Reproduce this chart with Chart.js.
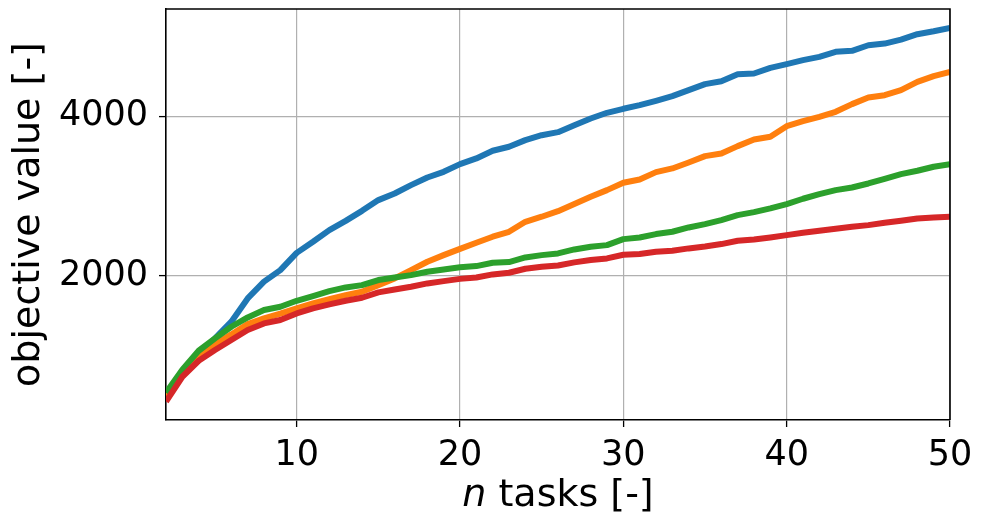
<!DOCTYPE html>
<html>
<head>
<meta charset="utf-8">
<script src="https://cdn.jsdelivr.net/npm/chart.js@4.4.1/dist/chart.umd.min.js"></script>
<style>
  body { margin: 0; background: #fff; }
  #wrap { width: 981px; height: 517px; }
</style>
</head>
<body>
<div id="wrap"><canvas id="chart" width="981" height="517"></canvas></div>
<script>
// n tasks on the x axis
const nTasks = [2, 3, 4, 5, 6, 7, 8, 9, 10, 11, 12, 13, 14, 15, 16, 17, 18, 19, 20,
  21, 22, 23, 24, 25, 26, 27, 28, 29, 30, 31, 32, 33, 34, 35, 36, 37, 38, 39, 40,
  41, 42, 43, 44, 45, 46, 47, 48, 49, 50];

// objective values per series
const blueVals = [500, 800, 1030, 1220, 1430, 1720, 1930, 2075, 2290, 2429, 2575, 2691, 2816,
  2950, 3033, 3137, 3233, 3304, 3400, 3471, 3567, 3617, 3700, 3762, 3800, 3887, 3971, 4042,
  4092, 4137, 4192, 4250, 4325, 4400, 4437, 4525, 4533, 4604, 4650, 4700, 4742, 4804, 4817,
  4887, 4908, 4958, 5025, 5062, 5104];
const orangeVals = [480, 780, 1000, 1150, 1270, 1400, 1470, 1530, 1596, 1658, 1712, 1762, 1804,
  1887, 1971, 2075, 2179, 2262, 2340, 2417, 2492, 2554, 2679, 2742, 2812, 2900, 2992, 3075,
  3167, 3208, 3300, 3346, 3421, 3500, 3533, 3625, 3708, 3742, 3875, 3937, 3992, 4054, 4150,
  4233, 4262, 4325, 4429, 4500, 4554];
const greenVals = [540, 830, 1066, 1221, 1366, 1483, 1575, 1616, 1691, 1750, 1812, 1858, 1887,
  1950, 1983, 2012, 2054, 2083, 2110, 2125, 2167, 2175, 2233, 2262, 2283, 2333, 2367, 2387,
  2462, 2483, 2525, 2554, 2608, 2650, 2700, 2762, 2800, 2846, 2900, 2967, 3025, 3075, 3108,
  3158, 3217, 3275, 3317, 3367, 3400];
const redVals = [430, 741, 941, 1075, 1200, 1325, 1408, 1450, 1533, 1596, 1646, 1691, 1729,
  1796, 1833, 1867, 1908, 1937, 1965, 1983, 2021, 2042, 2092, 2117, 2133, 2171, 2200, 2221,
  2267, 2275, 2304, 2317, 2346, 2370, 2400, 2442, 2458, 2483, 2512, 2542, 2567, 2592, 2617,
  2637, 2667, 2692, 2721, 2733, 2742];

const xTicks = [10, 20, 30, 40, 50];
const yTicks = [2000, 4000];

const FONT = "'DejaVu Sans', sans-serif";
const TICK_SIZE = 35;
const LABEL_SIZE = 38;

function toPoints(vals) {
  return vals.map((v, i) => ({ x: nTasks[i], y: v }));
}

function lineSet(vals, color, order) {
  return {
    data: toPoints(vals),
    borderColor: color,
    backgroundColor: color,
    borderWidth: 6,
    pointRadius: 0,
    tension: 0,
    borderJoinStyle: 'round',
    borderCapStyle: 'butt',
    clip: 0,
    order: order
  };
}

// top and right spines, plus the x title with italic n
const framePlugin = {
  id: 'frame',
  afterDraw(chart) {
    const { ctx, chartArea } = chart;
    ctx.save();
    ctx.strokeStyle = '#000';
    ctx.lineWidth = 1.6;
    ctx.beginPath();
    ctx.moveTo(chartArea.left, chartArea.top);
    ctx.lineTo(chartArea.right, chartArea.top);
    ctx.lineTo(chartArea.right, chartArea.bottom);
    ctx.stroke();

    const cx = (chartArea.left + chartArea.right) / 2;
    const y = 506;
    const italic = 'italic ' + LABEL_SIZE + 'px ' + FONT;
    const normal = LABEL_SIZE + 'px ' + FONT;
    ctx.font = italic;
    const wN = ctx.measureText('n').width;
    ctx.font = normal;
    const rest = ' tasks [-]';
    const wR = ctx.measureText(rest).width;
    let x0 = cx - (wN + wR) / 2;
    ctx.fillStyle = '#000';
    ctx.textBaseline = 'alphabetic';
    ctx.textAlign = 'left';
    ctx.font = italic;
    ctx.fillText('n', x0, y);
    ctx.font = normal;
    ctx.fillText(rest, x0 + wN, y);
    ctx.restore();
  }
};

const ctx = document.getElementById('chart').getContext('2d');
new Chart(ctx, {
  type: 'line',
  data: {
    datasets: [
      lineSet(blueVals, '#1f77b4', 4),
      lineSet(orangeVals, '#ff7f0e', 3),
      lineSet(greenVals, '#2ca02c', 2),
      lineSet(redVals, '#d62728', 1)
    ]
  },
  options: {
    responsive: false,
    animation: false,
    layout: { padding: { top: 9, right: 31, left: 0, bottom: 0 } },
    plugins: {
      legend: { display: false },
      tooltip: { enabled: false }
    },
    scales: {
      x: {
        type: 'linear',
        min: 2,
        max: 50,
        afterBuildTicks: (scale) => { scale.ticks = xTicks.map(v => ({ value: v })); },
        afterFit: (scale) => {
          scale.height = 97;
          scale.paddingLeft = 0;
          scale.paddingRight = 0;
        },
        grid: { color: '#b0b0b0', lineWidth: 1.2, tickColor: '#000', tickLength: 7, tickWidth: 1.3 },
        border: { color: '#000', width: 1.6 },
        ticks: { color: '#000', font: { family: FONT, size: TICK_SIZE }, padding: 8, maxRotation: 0 },
        title: { display: false }
      },
      y: {
        type: 'linear',
        min: 200,
        max: 5340,
        afterBuildTicks: (scale) => { scale.ticks = yTicks.map(v => ({ value: v })); },
        afterFit: (scale) => {
          scale.width = 166;
          scale.paddingTop = 0;
          scale.paddingBottom = 0;
        },
        grid: { color: '#b0b0b0', lineWidth: 1.2, tickColor: '#000', tickLength: 7, tickWidth: 1.3 },
        border: { color: '#000', width: 1.6 },
        ticks: {
          color: '#000',
          font: { family: FONT, size: TICK_SIZE },
          padding: 11,
          callback: (v) => String(v)
        },
        title: {
          display: true,
          text: 'objective value [-]',
          color: '#000',
          font: { family: FONT, size: LABEL_SIZE },
          padding: { top: 6, bottom: 0 }
        }
      }
    }
  },
  plugins: [framePlugin]
});
</script>
</body>
</html>
